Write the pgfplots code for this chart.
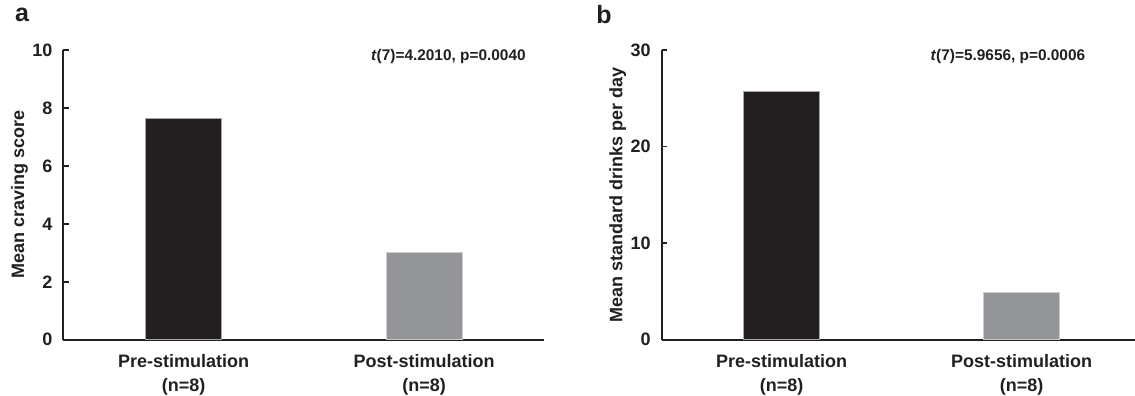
\documentclass[border=0pt]{standalone}
\usepackage{pgfplots}
\pgfplotsset{compat=1.18}
\usepackage{fontspec}
\setmainfont{Liberation Sans}
\definecolor{barblack}{HTML}{231F20}
\definecolor{bargray}{HTML}{939598}
\definecolor{axcol}{HTML}{231F20}
\pgfplotsset{
  mystyle/.style={
    scale only axis,
    height=144.85pt,
    ymin=0,
    xmin=-0.5, xmax=1.5,
    axis x line=bottom, axis y line=left,
    axis line style={-, line width=1pt, draw=axcol},
    xtick={0,1},
    xticklabels={{Pre-stimulation\\(n=8)},{Post-stimulation\\(n=8)}},
    xticklabel style={align=center, font=\fontsize{9}{12}\selectfont\bfseries, text=axcol, yshift=-1.5pt},
    major x tick style={draw=none},
    tick align=inside,
    major tick length=2.5pt,
    ytick style={draw=axcol, line width=0.8pt},
    yticklabel style={font=\fontsize{9}{11}\selectfont\bfseries, text=axcol, xshift=-2pt},
    /pgf/number format/assume math mode=true,
    every axis y label/.style={at={(axis description cs:-0.0915,0.5)}, rotate=90, anchor=center, font=\fontsize{9}{11}\selectfont\bfseries, text=axcol},
    ybar, bar width=38pt, bar shift=0pt,
    clip=false,
  }
}
\begin{document}
\begin{tikzpicture}
\useasboundingbox (0,0) rectangle (567.5pt,198pt);
\node[font=\fontsize{12.5}{14}\selectfont\bfseries, text=axcol] at (11pt,190.5pt) {a};
\node[font=\fontsize{12.5}{14}\selectfont\bfseries, text=axcol] at (302pt,190.5pt) {b};
\begin{axis}[mystyle, at={(31.75pt,28.15pt)}, anchor=south west, width=240.4pt,
  ymax=10, ytick={0,2,4,6,8,10},
  ylabel={Mean craving score}]
  \addplot[fill=barblack, draw=gray!70, line width=0.3pt] coordinates {(0,7.64)};
  \addplot[fill=bargray, draw=gray!40, line width=0.3pt] coordinates {(1,3.03)};
  \node[anchor=east, font=\fontsize{7.7}{9}\selectfont\bfseries, text=axcol] at (rel axis cs:0.976,0.976) {\textit{t}(7)=4.2010, p=0.0040};
\end{axis}
\begin{axis}[mystyle, at={(330.85pt,28.15pt)}, anchor=south west, width=240pt,
  ymax=30, ytick={0,10,20,30},
  ylabel={Mean standard drinks per day}]
  \addplot[fill=barblack, draw=gray!70, line width=0.3pt] coordinates {(0,25.68)};
  \addplot[fill=bargray, draw=gray!40, line width=0.3pt] coordinates {(1,4.87)};
  \node[anchor=east, font=\fontsize{7.7}{9}\selectfont\bfseries, text=axcol] at (rel axis cs:0.897,0.976) {\textit{t}(7)=5.9656, p=0.0006};
\end{axis}
\end{tikzpicture}
\end{document}
